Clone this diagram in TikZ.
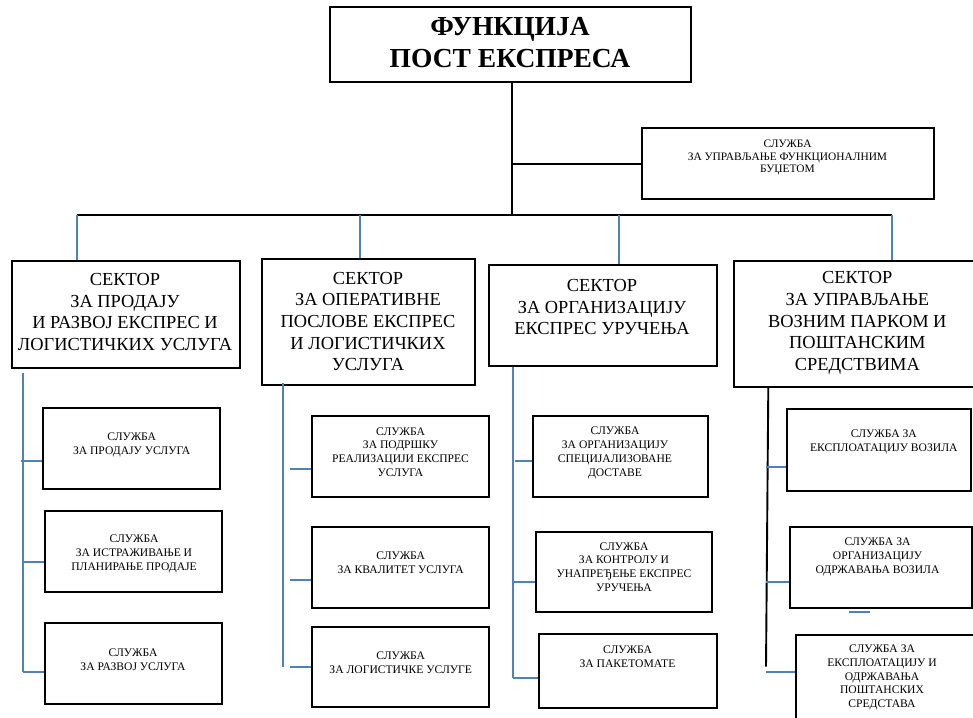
\documentclass[tikz,border=0pt]{standalone}
\usepackage{fontspec}
\setmainfont{Liberation Serif}
\definecolor{wblue}{RGB}{79,129,189}
\tikzset{
  bx/.style={draw=black, line width=2pt, inner sep=0pt, fill=none},
  ttl/.style={inner sep=0pt, align=center, font=\fontsize{27.5}{31.7}\selectfont\bfseries},
  sec/.style={inner sep=0pt, align=center, font=\fontsize{18.4}{21.6}\selectfont},
  sub/.style={inner sep=0pt, align=center, font=\fontsize{11.6}{13.8}\selectfont},
  bcon/.style={draw=black, line width=1.9pt},
  ucon/.style={draw=wblue, line width=1.8pt},
}
\begin{document}
\begin{tikzpicture}[x=1pt,y=-1pt]
\useasboundingbox (0,0) rectangle (973,717);
\clip (0,0) rectangle (973,717);
% boxes
\node[bx, minimum width=361, minimum height=75] (top) at (510.5,44.5) {};
\node[bx, minimum width=292, minimum height=71] (bud) at (788,163.5) {};
\node[bx, minimum width=228, minimum height=107] (s1) at (126,314.5) {};
\node[bx, minimum width=213, minimum height=126] (s2) at (368.5,322) {};
\node[bx, minimum width=228, minimum height=101] (s3) at (603,315.5) {};
\node[bx, minimum width=251, minimum height=126] (s4) at (859.5,324) {};
\node[bx, minimum width=177, minimum height=81] (b1) at (131.5,448.5) {};
\node[bx, minimum width=177, minimum height=81] (b2) at (133.5,551.5) {};
\node[bx, minimum width=177, minimum height=81] (b3) at (133.5,663.5) {};
\node[bx, minimum width=177, minimum height=81] (c1) at (400.5,456.5) {};
\node[bx, minimum width=177, minimum height=81] (c2) at (400.5,567.5) {};
\node[bx, minimum width=177, minimum height=80] (c3) at (400.5,667) {};
\node[bx, minimum width=175, minimum height=81] (d1) at (620.5,456.5) {};
\node[bx, minimum width=176, minimum height=80] (d2) at (624,572) {};
\node[bx, minimum width=178, minimum height=74] (d3) at (628,671) {};
\node[bx, minimum width=184, minimum height=82] (e1) at (879,450) {};
\node[bx, minimum width=182, minimum height=81] (e2) at (881,567.5) {};
\node[bx, minimum width=189, minimum height=95] (e3) at (890.5,682.5) {};
% texts
\node[ttl] (ttop) at (510,42.5) {ФУНКЦИЈА\\ПОСТ ЕКСПРЕСА};
\node[sub, font=\fontsize{11.4}{12.5}\selectfont] (tbud) at (787.5,157.5) {СЛУЖБА\\ЗА УПРАВЉАЊЕ ФУНКЦИОНАЛНИМ\\БУЏЕТОМ};
\node[sec] (ts1) at (125,312) {СЕКТОР\\ЗА ПРОДАЈУ\\И РАЗВОЈ ЕКСПРЕС И\\ЛОГИСТИЧКИХ УСЛУГА};
\node[sec] (ts2) at (368,321.5) {СЕКТОР\\ЗА ОПЕРАТИВНЕ\\ПОСЛОВЕ ЕКСПРЕС\\И ЛОГИСТИЧКИХ\\УСЛУГА};
\node[sec] (ts3) at (602,307) {СЕКТОР\\ЗА ОРГАНИЗАЦИЈУ\\ЕКСПРЕС УРУЧЕЊА};
\node[sec] (ts4) at (857.3,323) {СЕКТОР\\ЗА УПРАВЉАЊЕ\\ВОЗНИМ ПАРКОМ И\\ПОШТАНСКИМ\\СРЕДСТВИМА};
\node[sub] (tb1) at (131.7,445) {СЛУЖБА\\ЗА ПРОДАЈУ УСЛУГА};
\node[sub] (tb2) at (134,554) {СЛУЖБА\\ЗА ИСТРАЖИВАЊЕ И\\ПЛАНИРАЊЕ ПРОДАЈЕ};
\node[sub] (tb3) at (133,659.5) {СЛУЖБА\\ЗА РАЗВОЈ УСЛУГА};
\node[sub] (tc1) at (400.5,452) {СЛУЖБА\\ЗА ПОДРШКУ\\РЕАЛИЗАЦИЈИ ЕКСПРЕС\\УСЛУГА};
\node[sub] (tc2) at (400.7,563) {СЛУЖБА\\ЗА КВАЛИТЕТ УСЛУГА};
\node[sub] (tc3) at (400.7,663) {СЛУЖБА\\ЗА ЛОГИСТИЧКЕ УСЛУГЕ};
\node[sub] (td1) at (615,452.7) {СЛУЖБА\\ЗА ОРГАНИЗАЦИЈУ\\СПЕЦИЈАЛИЗОВАНЕ\\ДОСТАВЕ};
\node[sub] (td2) at (624,567) {СЛУЖБА\\ЗА КОНТРОЛУ И\\УНАПРЕЂЕЊЕ ЕКСПРЕС\\УРУЧЕЊА};
\node[sub] (td3) at (627.5,656.7) {СЛУЖБА\\ЗА ПАКЕТОМАТЕ};
\node[sub] (te1) at (883.8,442) {СЛУЖБА ЗА\\ЕКСПЛОАТАЦИЈУ ВОЗИЛА};
\node[sub] (te2) at (877.5,557) {СЛУЖБА ЗА\\ОРГАНИЗАЦИЈУ\\ОДРЖАВАЊА ВОЗИЛА};
\node[sub] (te3) at (882,677.5) {СЛУЖБА ЗА\\ЕКСПЛОАТАЦИЈУ И\\ОДРЖАВАЊА\\ПОШТАНСКИХ\\СРЕДСТАВА};
% connector coordinates
\coordinate (hub) at (512,215);
\coordinate (hl) at (77,215);
\coordinate (h2) at (360,215);
\coordinate (h3) at (619,215);
\coordinate (hr) at (892,215);
\coordinate (tb) at (512,164);
% top connectors
\draw[bcon] (top.south -| hub) -- (hub);
\draw[bcon] (tb) -- (tb -| bud.west);
\draw[bcon] (hl) -- (hr);
\draw[ucon] (hl) -- (hl |- s1.north);
\draw[ucon] (h2) -- (h2 |- s2.north);
\draw[ucon] (h3) -- (h3 |- s3.north);
\draw[ucon] (hr) -- (hr |- s4.north);
% column 1
\coordinate (v1a) at (22.7,373);
\coordinate (v1b) at (22.7,671.7);
\coordinate (j11) at (20.7,460.7);
\coordinate (j12) at (22.7,562.3);
\draw[ucon] (v1a) -- (v1b);
\draw[ucon] (j11) -- (j11 -| b1.west);
\draw[ucon] (j12) -- (j12 -| b2.west);
\draw[ucon] (v1b) -- (v1b -| b3.west);
% column 2
\coordinate (v2a) at (283.3,383.3);
\coordinate (v2b) at (283.3,666.7);
\coordinate (j21) at (290,469);
\coordinate (j22) at (290,580);
\coordinate (j23) at (290,666.7);
\draw[ucon] (v2a) -- (v2b);
\draw[ucon] (j21) -- (j21 -| c1.west);
\draw[ucon] (j22) -- (j22 -| c2.west);
\draw[ucon] (j23) -- (j23 -| c3.west);
% column 3
\coordinate (v3a) at (512.7,366.7);
\coordinate (v3b) at (512.7,678.3);
\coordinate (j31) at (515,460.7);
\coordinate (j32) at (512.7,581.7);
\draw[ucon] (v3a) -- (v3b);
\draw[ucon] (j31) -- (j31 -| d1.west);
\draw[ucon] (j32) -- (j32 -| d2.west);
\draw[ucon] (v3b) -- (v3b -| d3.west);
% column 4
\coordinate (v4a) at (768.3,387);
\coordinate (v4b) at (766,666.7);
\coordinate (j41) at (766,467.3);
\coordinate (j42) at (766,581.7);
\coordinate (j43) at (766,671.7);
\coordinate (st1) at (849.3,612.3);
\coordinate (st2) at (870,612.3);
\draw[bcon] (v4a) -- (v4b);
\draw[ucon] (j41) -- (j41 -| e1.west);
\draw[ucon] (j42) -- (j42 -| e2.west);
\draw[ucon] (j43) -- (j43 -| e3.west);
\draw[ucon] (st1) -- (st2);
\end{tikzpicture}
\end{document}
